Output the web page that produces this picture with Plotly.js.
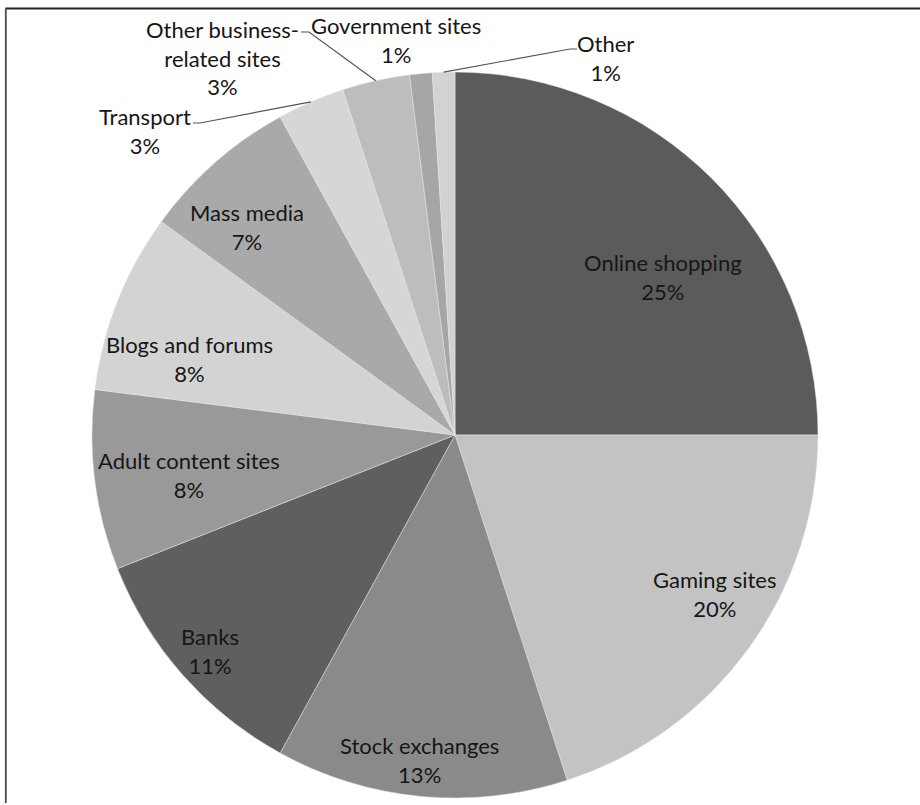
<!DOCTYPE html>
<html>
<head>
<meta charset="utf-8">
<script src="https://cdn.plot.ly/plotly-3.0.1.min.js"></script>
<style>html,body{margin:0;padding:0;background:#fff;}#chart{width:920px;height:805px;}</style>
</head>
<body>
<div id="chart"></div>
<script>
// ---- data ----
const categories = ["Online shopping", "Gaming sites", "Stock exchanges", "Banks",
  "Adult content sites", "Blogs and forums", "Mass media", "Transport",
  "Other business-related sites", "Government sites", "Other"];
const values = [25, 20, 13, 11, 8, 8, 7, 3, 3, 1, 1];
const labelText = ["Online shopping", "Gaming sites", "Stock exchanges", "Banks",
  "Adult content sites", "Blogs and forums", "Mass media", "Transport",
  "Other business-<br>related sites", "Government sites", "Other"];
const sliceColors = ["#5b5b5b", "#c3c3c3", "#8a8a8a", "#5f5f5f", "#999999",
  "#d3d3d3", "#a9a9a9", "#d6d6d6", "#bdbdbd", "#a6a6a6", "#d2d2d2"];

// ---- geometry / styling (not data) ----
const W = 920, H = 805;
const CX = 455, CY = 435, R = 363;
// inside labels: radial fraction and angular nudge (deg); outside labels: pixel position
const inside = {0:[0.72, 7.9], 1:[0.84, -4.5], 2:[0.90, 0.8], 3:[0.90, 0], 4:[0.74, -1.4], 5:[0.76, -5.7], 6:[0.81, -3.6]};
const outside = {7:[145, 131], 8:[222, 58], 9:[396, 40], 10:[605, 58]};
// leader line anchors next to outside labels (px): bend point then text end
const leaders = {7:[[200,123],[193,123]], 8:[[309,32],[301,32]], 10:[[570,49],[577,49]]};

const px = x => x / W, py = y => 1 - y / H;
const total = values.reduce((a, b) => a + b, 0);
let cum = 0;
const midAngles = values.map(v => { const m = (cum + v / 2) / total * 360; cum += v; return m; });
const polar = (deg, r) => { const a = deg * Math.PI / 180; return [CX + r * Math.sin(a), CY - r * Math.cos(a)]; };

const annotations = [];
const shapes = [];
const font = {family: "Lato, 'Open Sans', sans-serif", size: 22, color: "#161616"};
categories.forEach((c, i) => {
  let pos;
  if (inside[i]) pos = polar(midAngles[i] + inside[i][1], R * inside[i][0]);
  else pos = outside[i];
  annotations.push({
    xref: "paper", yref: "paper", x: px(pos[0]), y: py(pos[1]),
    xanchor: "center", yanchor: "middle", showarrow: false, align: "center",
    text: labelText[i] + "<br>" + values[i] + "%", font: font
  });
  if (leaders[i]) {
    const e = polar(midAngles[i], R);
    const [b, t] = leaders[i];
    shapes.push({
      type: "path", xref: "paper", yref: "paper",
      path: `M ${px(e[0])},${py(e[1])} L ${px(b[0])},${py(b[1])} L ${px(t[0])},${py(t[1])}`,
      line: {color: "#555", width: 1.2}
    });
  }
});
// frame (top and left edges)
shapes.push({type: "line", xref: "paper", yref: "paper", x0: px(5.5), x1: px(930), y0: py(8.5), y1: py(8.5), line: {color: "#222", width: 1.8}});
shapes.push({type: "line", xref: "paper", yref: "paper", x0: px(5.8), x1: px(5.8), y0: py(8.5), y1: py(803), line: {color: "#4a4a4a", width: 1.8}});

const trace = {
  type: "pie",
  labels: categories,
  values: values,
  sort: false,
  direction: "clockwise",
  rotation: 0,
  textinfo: "none",
  hoverinfo: "skip",
  marker: {colors: sliceColors, line: {color: "#e6e6e6", width: 0.5}},
  domain: {x: [px(CX - R), px(CX + R)], y: [py(CY + R), py(CY - R)]},
  showlegend: false
};

Plotly.newPlot("chart", [trace], {
  width: W, height: H,
  margin: {l: 0, r: 0, t: 0, b: 0},
  paper_bgcolor: "#ffffff",
  showlegend: false,
  annotations: annotations,
  shapes: shapes
}, {staticPlot: true});
</script>
</body>
</html>
